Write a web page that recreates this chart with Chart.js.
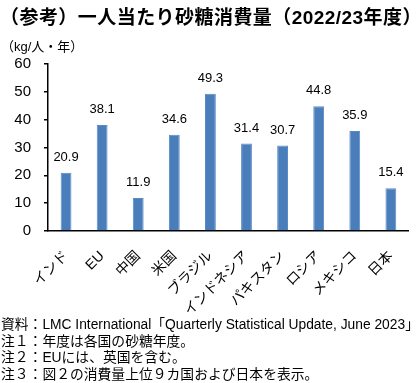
<!DOCTYPE html>
<html>
<head>
<meta charset="utf-8">
<script src="https://cdn.jsdelivr.net/npm/chart.js@4/dist/chart.umd.min.js"></script>
<style>
  html, body { margin: 0; padding: 0; background: #fff; }
  body { width: 420px; height: 383px; position: relative; overflow: hidden;
         font-family: "Liberation Sans", "Noto Sans CJK JP", sans-serif; color: #000; }
  #wrap { position: absolute; left: 0; top: 0; width: 420px; height: 383px; }
  .t { position: absolute; white-space: nowrap; }
  #title { left: 0; top: 2px; font-size: 19px; font-weight: bold; letter-spacing: 0.45px; }
  #unit { left: 1px; top: 36px; font-size: 13px; }
  .fn { left: 1px; font-size: 13.8px; line-height: 17px; }
</style>
</head>
<body>
<div id="wrap"><canvas id="c" width="420" height="383"></canvas></div>
<div class="t" id="title">（参考）一人当たり砂糖消費量（2022/23年度）</div>
<div class="t" id="unit">（kg/人・年）</div>
<div class="t fn" style="top:316px">資料：LMC International「Quarterly Statistical Update, June 2023」</div>
<div class="t fn" style="top:333px">注１：年度は各国の砂糖年度。</div>
<div class="t fn" style="top:349px">注２：EUには、英国を含む。</div>
<div class="t fn" style="top:366px">注３：図２の消費量上位９カ国および日本を表示。</div>
<script>
const categories = ["インド", "EU", "中国", "米国", "ブラジル", "インドネシア", "パキスタン", "ロシア", "メキシコ", "日本"];
const consumption = [20.9, 38.1, 11.9, 34.6, 49.3, 31.4, 30.7, 44.8, 35.9, 15.4];
const yTicks = [0, 10, 20, 30, 40, 50, 60];

const FONT = '"Liberation Sans", "Noto Sans CJK JP", sans-serif';

const valueLabels = {
  id: 'valueLabels',
  afterDatasetsDraw(chart) {
    const ctx = chart.ctx;
    const meta = chart.getDatasetMeta(0);
    ctx.save();
    ctx.font = '13px ' + FONT;
    ctx.fillStyle = '#000';
    ctx.textAlign = 'center';
    ctx.textBaseline = 'bottom';
    meta.data.forEach((bar, i) => {
      ctx.fillText(consumption[i].toFixed(1), bar.x, bar.y - 9);
    });
    ctx.restore();
  }
};

new Chart(document.getElementById('c'), {
  type: 'bar',
  data: {
    labels: categories,
    datasets: [{
      data: consumption,
      backgroundColor: '#4a7ebb',
      borderColor: '#5a8ac6',
      borderWidth: 1,
      barPercentage: 0.6,
      categoryPercentage: 0.5
    }]
  },
  options: {
    responsive: false,
    animation: false,
    devicePixelRatio: 1,
    layout: { padding: { top: 64, left: 0, right: 5, bottom: 0 } },
    plugins: { legend: { display: false }, tooltip: { enabled: false }, title: { display: false } },
    scales: {
      x: {
        grid: { display: false, drawTicks: false },
        border: { color: '#000', width: 1.5 },
        ticks: {
          color: '#000',
          font: { family: FONT, size: 14 },
          maxRotation: 45, minRotation: 45,
          padding: 17,
          autoSkip: false
        },
        afterFit(scale) { scale.height = 152; }
      },
      y: {
        min: 0, max: 60,
        afterBuildTicks(scale) { scale.ticks = yTicks.map(v => ({ value: v })); },
        grid: { drawOnChartArea: false, drawTicks: true, tickLength: 4, color: '#000', lineWidth: 1.5 },
        border: { color: '#000', width: 1.5 },
        ticks: {
          color: '#000',
          font: { family: FONT, size: 15 },
          padding: 13
        },
        afterFit(scale) { scale.width = 48; }
      }
    }
  },
  plugins: [valueLabels]
});
</script>
</body>
</html>
